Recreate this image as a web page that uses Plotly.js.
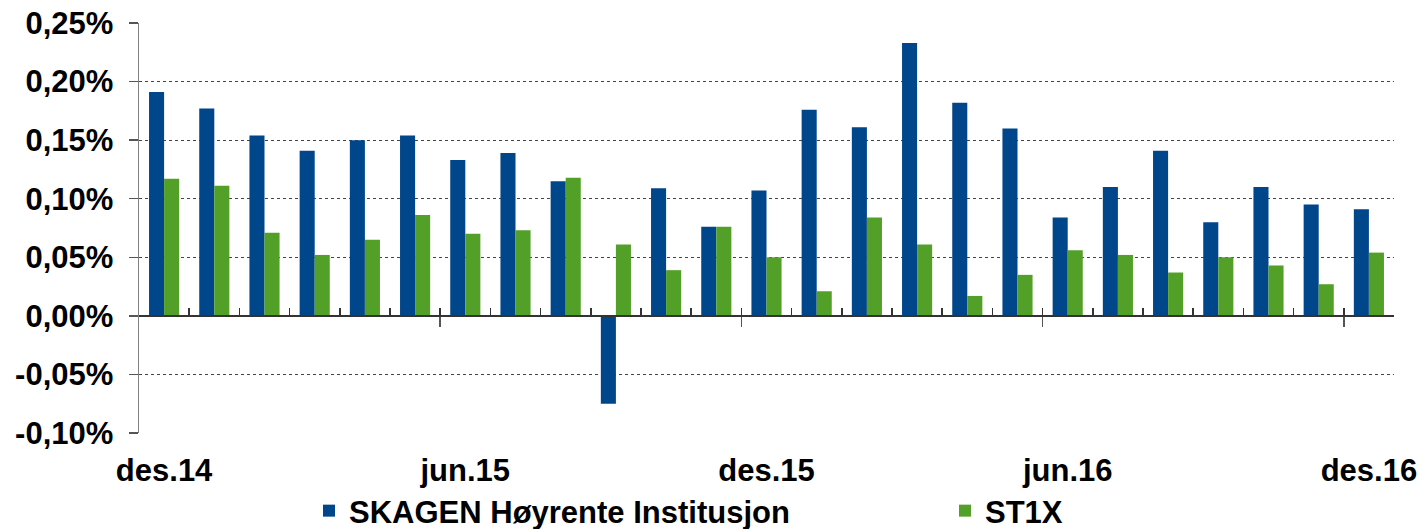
<!DOCTYPE html>
<html>
<head>
<meta charset="utf-8">
<script src="https://cdn.plot.ly/plotly-3.0.1.min.js"></script>
<style>html,body{margin:0;padding:0;background:#fff;}#chart{width:1422px;height:529px;}</style>
</head>
<body>
<div id="chart"></div>
<script>
const months = ["des.14","jan.15","feb.15","mar.15","apr.15","mai.15","jun.15","jul.15","aug.15","sep.15","okt.15","nov.15",
                "des.15","jan.16","feb.16","mar.16","apr.16","mai.16","jun.16","jul.16","aug.16","sep.16","okt.16","nov.16","des.16"];
const skagen = [0.191,0.177,0.154,0.141,0.150,0.154,0.133,0.139,0.115,-0.075,0.109,0.076,
                0.107,0.176,0.161,0.233,0.182,0.160,0.084,0.110,0.141,0.080,0.110,0.095,0.091];
const st1x   = [0.117,0.111,0.071,0.052,0.065,0.086,0.070,0.073,0.118,0.061,0.039,0.076,
                0.050,0.021,0.084,0.061,0.017,0.035,0.056,0.052,0.037,0.050,0.043,0.027,0.054];
const seriesNames = ["SKAGEN Høyrente Institusjon","ST1X"];
const xTickMonths = ["des.14","jun.15","des.15","jun.16","des.16"];
const yTickVals = [-0.10,-0.05,0,0.05,0.10,0.15,0.20,0.25];
const yTickText = ["-0,10%","-0,05%","0,00%","0,05%","0,10%","0,15%","0,20%","0,25%"];

const boundaries = months.map((m,i)=>i+0.5);
const majorBoundaries = months.map((m,i)=>i+0.5).filter((v,i)=>(i+1)%6===0);

const font = {family:"Arial, 'Liberation Sans', sans-serif", size:31, color:"#000", weight:"bold"};

const traces = [
  {type:"bar", name:seriesNames[0], x:months, y:skagen, marker:{color:"#00468A"}, hoverinfo:"skip", legend:"legend"},
  {type:"bar", name:seriesNames[1], x:months, y:st1x, marker:{color:"#52A028"}, hoverinfo:"skip", legend:"legend2"},
  {type:"scatter", x:[], y:[], xaxis:"x2", yaxis:"y", showlegend:false, hoverinfo:"skip"},
  {type:"scatter", x:[], y:[], xaxis:"x3", yaxis:"y", showlegend:false, hoverinfo:"skip"}
];

const legendBase = {orientation:"h", xref:"container", yref:"container", xanchor:"left", yanchor:"middle",
                    y:1-511/529, font:font, bgcolor:"rgba(0,0,0,0)", borderwidth:0, itemclick:false};

const layout = {
  width:1422, height:529,
  margin:{l:139, r:28, t:23, b:96, autoexpand:false},
  paper_bgcolor:"#fff", plot_bgcolor:"#fff",
  font:font,
  barmode:"group", bargap:0.4, bargroupgap:0,
  showlegend:true,
  legend:Object.assign({}, legendBase, {x:309/1422}),
  legend2:Object.assign({}, legendBase, {x:945/1422}),
  xaxis:{type:"category", categoryorder:"array", categoryarray:months, range:[-0.5,24.5],
         tickmode:"array", tickvals:xTickMonths, ticktext:xTickMonths,
         ticks:"", showline:false, showgrid:false, zeroline:false, automargin:false,
         tickfont:font, ticklabelstandoff:16, fixedrange:true},
  xaxis2:{overlaying:"x", anchor:"free", position:0.1/0.35, type:"linear", range:[-0.5,24.5],
          showline:true, linecolor:"#333", linewidth:2, showgrid:false, zeroline:false, automargin:false,
          tickmode:"array", tickvals:boundaries, ticks:"inside", ticklen:7, tickwidth:1.5, tickcolor:"#333",
          showticklabels:false, fixedrange:true},
  xaxis3:{overlaying:"x", anchor:"free", position:0.1/0.35, type:"linear", range:[-0.5,24.5],
          showline:false, showgrid:false, zeroline:false, automargin:false,
          tickmode:"array", tickvals:majorBoundaries, ticks:"outside", ticklen:10, tickwidth:1.5, tickcolor:"#555",
          showticklabels:false, fixedrange:true},
  yaxis:{range:[-0.1,0.25], tickmode:"array", tickvals:yTickVals, ticktext:yTickText,
         showgrid:true, gridcolor:"#444", griddash:"dot", gridwidth:1,
         zeroline:false, showline:true, linecolor:"#808080", linewidth:1.5, automargin:false,
         ticks:"outside", ticklen:9, tickwidth:1.5, tickcolor:"#555",
         tickfont:font, ticklabelstandoff:9, fixedrange:true}
};

Plotly.newPlot("chart", traces, layout, {displayModeBar:false, staticPlot:true});
</script>
</body>
</html>
